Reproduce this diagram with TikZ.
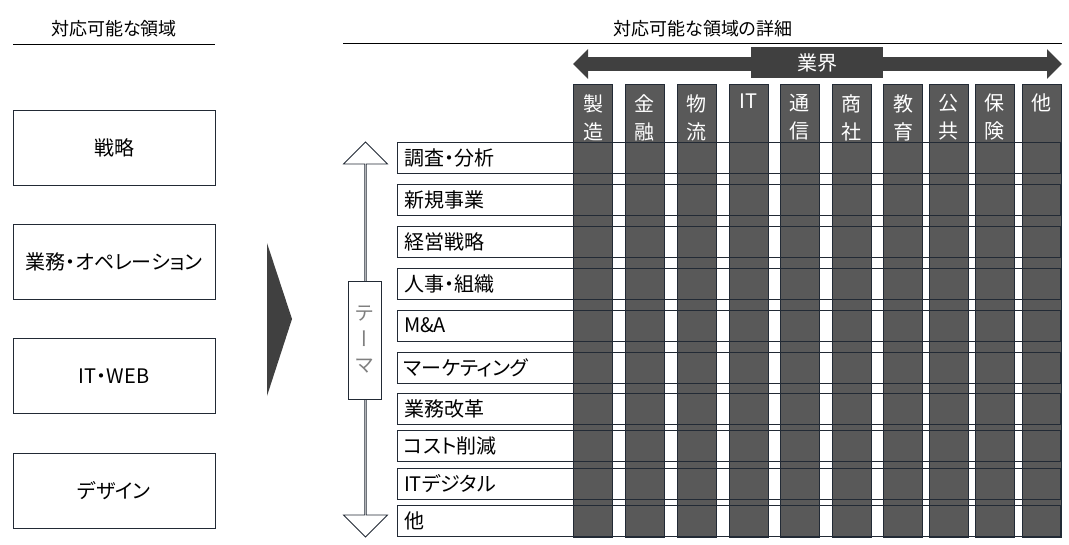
\documentclass[tikz,border=0pt]{standalone}
\usepackage{fontspec}
\setmainfont{Noto Sans CJK JP}[RawFeature=+palt]
\newfontfamily\vertjp{Noto Sans CJK JP}[RawFeature=+vert]
\usetikzlibrary{arrows.meta,shapes.arrows}

\definecolor{linecol}{HTML}{222A35}
\definecolor{colfill}{HTML}{595959}
\definecolor{darkfill}{HTML}{404040}
\definecolor{tagtext}{HTML}{7F7F7F}

\tikzset{
  hdr/.style={font=\fontsize{18}{22}\selectfont},
  areabox/.style={draw=linecol, line width=0.8pt, minimum width=202, minimum height=75, font=\fontsize{20}{24}\selectfont},
  themerow/.style={draw=linecol, line width=0.8pt, minimum height=31, text width=649, inner xsep=7, inner ysep=0, align=left, font=\fontsize{20}{24}\selectfont},
  indcol/.style={fill=colfill, draw=linecol, line width=0.8pt, minimum width=39, minimum height=453, inner sep=0},
  indtext/.style={text=white, anchor=north, inner sep=0, align=center, font=\fontsize{20}{28}\selectfont},
  indtag/.style={fill=darkfill, text=white, minimum width=132, minimum height=31, inner sep=0, font=\fontsize{20}{24}\selectfont},
  bigarrow/.style={draw=darkfill, line width=14pt, {Triangle[length=15pt,width=29pt]}-{Triangle[length=15pt,width=29pt]}},
  themearrow/.style={shape=double arrow, draw=linecol, fill=white, line width=0.8pt, rotate=90, minimum height=395, minimum width=44, double arrow head extend=12, inner sep=0},
  themetag/.style={draw=linecol, fill=white, line width=0.8pt, minimum width=33, minimum height=118, inner sep=0, align=center, text=tagtext, font=\vertjp\fontsize{20}{26}\selectfont}
}

\begin{document}
\begin{tikzpicture}[x=1pt, y=-1pt]
\useasboundingbox (0,0) rectangle (1069,544);

% left side
\node[hdr] (lhead) at (114,29) {対応可能な領域};
\draw[line width=1pt] (13,44) -- (215,44);
\node[areabox] (a1) at (114,148) {戦略};
\node[areabox] (a2) at (114,262) {業務・オペレーション};
\node[areabox] (a3) at (114,376) {IT・WEB};
\node[areabox] (a4) at (114,490.5) {デザイン};

\fill[fill=darkfill] (267,243) -- (292,319) -- (267,396) -- cycle;

% right side
\node[hdr] (rhead) at (703,29) {対応可能な領域の詳細};
\draw[line width=1pt] (343,43) -- (1062,43);

\coordinate (indL) at (573,64);
\coordinate (indR) at (1062,64);
\draw[bigarrow] (indL) -- (indR);
\node[indtag] (ind) at (817,62.5) {業界};

\node[indcol] (c1) at (593,310.5) {};
\node[indcol] (c2) at (644.5,310.5) {};
\node[indcol] (c3) at (696.5,310.5) {};
\node[indcol] (c4) at (748.5,310.5) {};
\node[indcol] (c5) at (799.5,310.5) {};
\node[indcol] (c6) at (851.5,310.5) {};
\node[indcol] (c7) at (903,310.5) {};
\node[indcol] (c8) at (948.5,310.5) {};
\node[indcol] (c9) at (994.5,310.5) {};
\node[indcol] (c10) at (1041.5,310.5) {};

\node[indtext] (t1) at (593,94) {製\\造};
\node[indtext] (t2) at (644.5,94) {金\\融};
\node[indtext] (t3) at (696.5,94) {物\\流};
\node[indtext] (t4) at (748.5,94) {IT};
\node[indtext] (t5) at (799.5,94) {通\\信};
\node[indtext] (t6) at (851.5,94) {商\\社};
\node[indtext] (t7) at (903,94) {教\\育};
\node[indtext] (t8) at (948.5,94) {公\\共};
\node[indtext] (t9) at (994.5,94) {保\\険};
\node[indtext] (t10) at (1041.5,94) {他};

\node[themerow] (r1) at (728.5,157.5) {調査・分析};
\node[themerow] (r2) at (728.5,199.5) {新規事業};
\node[themerow] (r3) at (728.5,241.5) {経営戦略};
\node[themerow] (r4) at (728.5,283.5) {人事・組織};
\node[themerow] (r5) at (728.5,325.5) {M\&A};
\node[themerow] (r6) at (728.5,367.5) {マーケティング};
\node[themerow] (r7) at (728.5,408.5) {業務改革};
\node[themerow] (r8) at (728.5,446) {コスト削減};
\node[themerow] (r9) at (728.5,483.5) {ITデジタル};
\node[themerow] (r10) at (728.5,521) {他};

\node[themearrow] (tarr) at (365.5,339.5) {};
\node[themetag] (tag) at (364.5,340) {テ\\ー\\マ};
\end{tikzpicture}
\end{document}
